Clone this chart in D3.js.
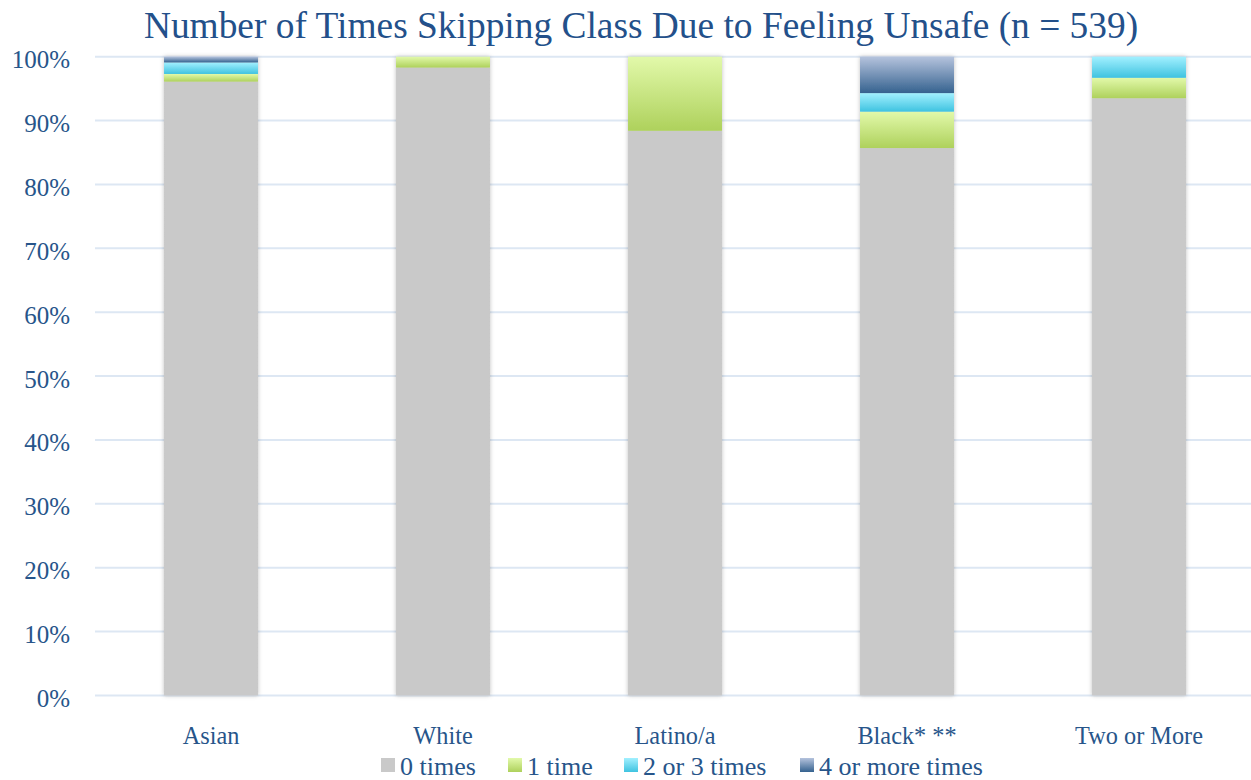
<!DOCTYPE html>
<html><head><meta charset="utf-8">
<script src="https://cdn.jsdelivr.net/npm/d3@7"></script>
<style>body{margin:0;background:#fff}svg{display:block}</style>
</head><body>
<svg id="chart" width="1251" height="780"></svg>
<script>
const categories = ["Asian", "White", "Latino/a", "Black* **", "Two or More"];
const seriesNames = ["0 times", "1 time", "2 or 3 times", "4 or more times"];
const zeroTimes = [96.1, 98.3, 88.4, 85.7, 93.5];
const oneTime   = [1.2, 1.7, 11.6, 5.7, 3.2];
const twoThree  = [1.8, 0, 0, 2.9, 3.3];
const fourMore  = [0.9, 0, 0, 5.7, 0];
const yTicks = [0, 10, 20, 30, 40, 50, 60, 70, 80, 90, 100];
const title = "Number of Times Skipping Class Due to Feeling Unsafe (n = 539)";

const svg = d3.select("#chart");
const W = 1251, H = 780;
const mLeft = 95, mRight = 1255, mTop = 56.7, mBottom = 695.5;
const textColor = "#27558a";
const font = "'Liberation Serif', serif";

const data = categories.map((c, i) => ({cat: c, "0 times": zeroTimes[i], "1 time": oneTime[i], "2 or 3 times": twoThree[i], "4 or more times": fourMore[i]}));
const stack = d3.stack().keys(seriesNames)(data);

const x = d3.scaleBand().domain(categories).range([mLeft, mRight]).paddingInner(0.595).paddingOuter(0.2975);
const y = d3.scaleLinear().domain([0, 100]).range([mBottom, mTop]);

const defs = svg.append("defs");
const grads = [
  ["#c9c9c9", "#c9c9c9"],
  ["#e2f9aa", "#aed15c"],
  ["#a2f0ff", "#3fc3e0"],
  ["#b5c3dd", "#35628f"]
];
grads.forEach((g, i) => {
  const lg = defs.append("linearGradient").attr("id", "g" + i).attr("x1", 0).attr("y1", 0).attr("x2", 0).attr("y2", 1);
  lg.append("stop").attr("offset", "0%").attr("stop-color", g[0]);
  lg.append("stop").attr("offset", "100%").attr("stop-color", g[1]);
});
const f = defs.append("filter").attr("id", "sh").attr("x", "-20%").attr("y", "-5%").attr("width", "140%").attr("height", "110%");
f.append("feDropShadow").attr("dx", 0).attr("dy", 0).attr("stdDeviation", 2.2).attr("flood-color", "#000").attr("flood-opacity", 0.25);

// gridlines
svg.append("g").selectAll("line").data(yTicks).join("line")
  .attr("x1", mLeft).attr("x2", W).attr("y1", d => y(d)).attr("y2", d => y(d))
  .attr("stroke", "#dde7f3").attr("stroke-width", 2);

// y axis labels
const yAxis = svg.append("g").attr("transform", `translate(${mLeft - 25},3)`)
  .call(d3.axisLeft(y).tickValues(yTicks).tickFormat(d => d + "%").tickSize(0).tickPadding(0));
yAxis.select(".domain").remove();
yAxis.selectAll("text").attr("fill", textColor).style("font-family", font).style("font-size", "25px");

// bars
const bars = svg.append("g").attr("filter", "url(#sh)");
stack.forEach((s, i) => {
  bars.append("g").selectAll("rect").data(s.filter(d => d[1] - d[0] > 0)).join("rect")
    .attr("x", d => x(d.data.cat)).attr("width", x.bandwidth())
    .attr("y", d => y(d[1])).attr("height", d => y(d[0]) - y(d[1]))
    .attr("fill", `url(#g${i})`);
});

// x axis labels
const xAxis = svg.append("g").attr("transform", `translate(0,744)`)
  .call(d3.axisBottom(x).tickSize(0).tickPadding(0));
xAxis.select(".domain").remove();
xAxis.selectAll("text").attr("fill", textColor).attr("y", 0).attr("dy", 0).style("font-family", font).style("font-size", "24.3px");

// title
svg.append("text").attr("x", 641).attr("y", 38).attr("text-anchor", "middle")
  .attr("fill", "#23508a").style("font-family", font).style("font-size", "37.4px").text(title);

// legend
const legendX = [381, 508, 624, 800];
const lg = svg.append("g");
seriesNames.forEach((n, i) => {
  const g = lg.append("g").attr("transform", `translate(${legendX[i]},758)`);
  g.append("rect").attr("x", 0).attr("y", 0).attr("width", 14).attr("height", 14).attr("fill", `url(#g${i})`);
  g.append("text").attr("x", 19).attr("y", 17).attr("fill", textColor)
    .style("font-family", font).style("font-size", "26px").text(n);
});
</script>
</body></html>
